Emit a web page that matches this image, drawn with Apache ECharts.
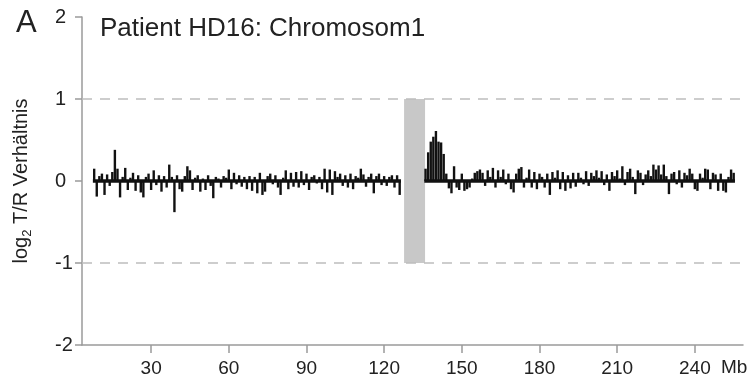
<!DOCTYPE html>
<html>
<head>
<meta charset="utf-8">
<script src="https://cdn.jsdelivr.net/npm/echarts@6/dist/echarts.min.js"></script>
<style>
html,body{margin:0;padding:0;background:#fff;}
#chart{width:753px;height:385px;}
</style>
</head>
<body>
<div id="chart"></div>
<script>
// ---- data ----
const titleText = 'Patient HD16: Chromosom1';
const panelLetter = 'A';
const xTickValues = [30, 60, 90, 120, 150, 180, 210, 240];
const yTickValues = [-2, -1, 0, 1, 2];
const xUnit = 'Mb';
// probe start positions (Mb) and spacing
const leftStartMb = 8;
const rightStartMb = 136;
const stepMb = 1;
// log2 T/R ratios, left of centromere (8..126 Mb)
const leftRatios = [
  0.15,-0.19,0.06,0.09,-0.17,0.08,-0.06,0.11,0.38,0.15,
  -0.2,0.05,0.16,-0.11,0.04,0.1,-0.12,0.07,-0.14,-0.2,
  0.05,0.09,-0.11,0.13,-0.05,0.07,-0.13,0.06,-0.08,0.2,
  0.05,-0.38,0.07,-0.1,-0.13,0.06,0.18,0.13,-0.11,0.04,
  0.07,-0.13,0.03,-0.11,0.07,-0.06,-0.21,0.05,0.03,-0.08,
  0.06,0.04,0.14,-0.1,0.1,-0.04,0.07,-0.07,0.05,-0.1,
  0.06,-0.12,0.05,-0.15,0.1,-0.17,-0.13,0.06,0.09,-0.04,
  0.07,-0.08,-0.17,0.04,0.13,-0.1,0.1,-0.07,0.11,-0.08,
  0.12,-0.05,0.09,-0.11,0.05,0.07,-0.03,0.05,-0.1,0.15,
  -0.14,0.14,-0.17,0.12,0.05,0.09,-0.06,0.07,-0.08,0.09,
  -0.1,0.06,0.04,0.15,0.08,-0.07,0.05,0.09,-0.15,0.06,
  0.09,-0.05,0.06,-0.06,0.05,0.07,-0.08,0.07,-0.17
];
// log2 T/R ratios, right of centromere (136..255 Mb)
const rightRatios = [
  0.15,0.35,0.48,0.54,0.61,0.48,0.47,0.33,0.09,-0.09,
  -0.15,0.18,-0.08,-0.11,0.09,-0.12,-0.1,-0.08,0.03,0.1,
  0.12,0.14,0.1,-0.06,0.13,0.05,0.16,-0.08,0.13,0.05,
  0.14,-0.04,0.09,-0.1,-0.14,0.09,0.15,0.17,-0.08,0.04,
  0.14,-0.08,0.11,-0.1,0.09,0.05,-0.08,0.09,-0.17,0.11,
  0.04,0.13,-0.1,0.11,-0.12,0.07,-0.09,0.1,-0.07,0.1,
  0.04,-0.04,0.12,-0.06,0.1,0.06,0.13,0.04,0.12,-0.05,
  0.08,-0.12,0.11,0.06,0.13,0.03,0.18,-0.05,0.11,0.15,
  0.05,-0.16,0.13,0.1,-0.05,0.08,0.13,0.06,0.2,0.14,
  0.19,0.08,0.2,0.06,-0.16,0.09,0.11,-0.04,0.13,-0.08,
  0.1,0.07,0.15,0.09,-0.1,-0.12,0.09,0.04,0.15,0.14,
  -0.1,0.1,0.08,-0.12,0.09,-0.12,-0.14,0.05,0.14,0.1
];
// centromere (gray box) Mb range and ratio range
const centromereMb = [127.7, 135.8];
const centromereRatio = [-1, 1];
const thresholdLines = [1, -1];
const xRange = [3.3, 258.6];
const yRange = [-2, 2];

// ---- build ----
const leftPts = leftRatios.map((v, i) => [leftStartMb + i * stepMb, v]);
const rightPts = rightRatios.map((v, i) => [rightStartMb + i * stepMb, v]);
const allPts = leftPts.concat(rightPts);
const leftEnd = leftStartMb + (leftRatios.length - 1) * stepMb;
const rightEnd = rightStartMb + (rightRatios.length - 1) * stepMb;

const chart = echarts.init(document.getElementById('chart'), null, {renderer: 'canvas'});
const FONT = '"Liberation Sans", Arial, sans-serif';
const INK = '#111';
function baseSeries(a, b) {
  return {type: 'line', data: [[a - 0.5, 0], [b + 0.5, 0]], symbol: 'none', silent: true, z: 5,
    lineStyle: {color: INK, width: 3.5}};
}
chart.setOption({
  animation: false,
  backgroundColor: '#ffffff',
  grid: {left: 75, right: 10, top: 17, bottom: 40, containLabel: false},
  xAxis: {
    type: 'value', min: xRange[0], max: xRange[1],
    axisLine: {show: true, onZero: false, lineStyle: {color: '#9a9a9a', width: 1.5}},
    axisTick: {show: true, customValues: xTickValues, length: 8, lineStyle: {color: '#9a9a9a', width: 1.5}},
    axisLabel: {customValues: xTickValues, color: '#222', fontSize: 19, fontFamily: FONT, margin: 14},
    splitLine: {show: false}
  },
  yAxis: {
    type: 'value', min: yRange[0], max: yRange[1], interval: 1,
    axisLine: {show: true, onZero: false, lineStyle: {color: '#9a9a9a', width: 1.5}},
    axisTick: {show: true, length: 7, lineStyle: {color: '#9a9a9a', width: 1.5}},
    axisLabel: {color: '#222', fontSize: 20, fontFamily: FONT, margin: 27, align: 'left'},
    splitLine: {show: false},
    name: 'log{s|2} T/R Verhältnis',
    nameLocation: 'middle', nameGap: 48, nameRotate: 90,
    nameTextStyle: {color: '#222', fontSize: 20, fontFamily: FONT, lineHeight: 26,
      rich: {s: {fontSize: 13, fontFamily: FONT, color: '#222', verticalAlign: 'bottom', lineHeight: 26, padding: [6, 0, 0, 0]}}}
  },
  graphic: [
    {type: 'text', left: 16, top: 8, style: {text: panelLetter, fontSize: 31, fontFamily: FONT, fill: '#222'}},
    {type: 'text', left: 100, top: 16, style: {text: titleText, fontSize: 26, fontFamily: FONT, fill: '#222'}},
    {type: 'text', left: 721, top: 358, style: {text: xUnit, fontSize: 19, fontFamily: FONT, fill: '#222'}}
  ],
  series: [
    {
      type: 'line', data: [], silent: true,
      markArea: {silent: true, itemStyle: {color: '#c8c8c8'},
        data: [[{xAxis: centromereMb[0], yAxis: centromereRatio[0]}, {xAxis: centromereMb[1], yAxis: centromereRatio[1]}]]},
      markLine: {silent: true, symbol: 'none', label: {show: false},
        lineStyle: {color: '#bdbdbd', width: 1.5, type: [10, 8]},
        data: thresholdLines.map(v => ({yAxis: v}))}
    },
    {type: 'bar', data: allPts, barWidth: 2.4, itemStyle: {color: INK}, silent: true, z: 3},
    baseSeries(leftStartMb, leftEnd), baseSeries(rightStartMb, rightEnd)
  ]
});
</script>
</body>
</html>
